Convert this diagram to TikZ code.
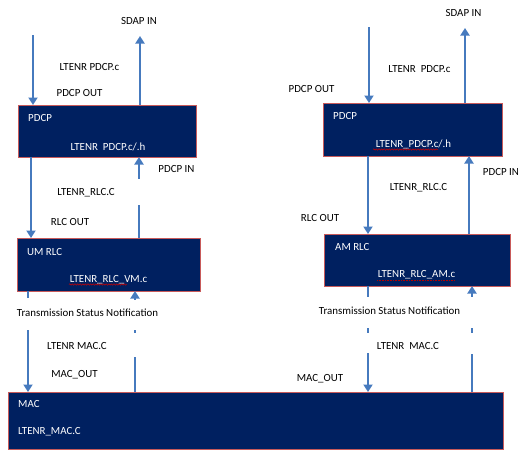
\documentclass[tikz,border=0pt]{standalone}
\usepackage{fontspec}
\setmainfont{Carlito}
\usetikzlibrary{arrows.meta,shadows,decorations.pathmorphing}
\definecolor{navy}{RGB}{0,32,96}
\definecolor{boxedge}{RGB}{200,90,90}
\definecolor{arrowblue}{RGB}{70,122,190}
\begin{document}
\begin{tikzpicture}[x=1pt, y=-1pt, font=\fontsize{10.9}{13}\selectfont,
  box/.style={draw=boxedge, line width=0.6pt, fill=navy, inner sep=0pt, outer sep=0pt,
    drop shadow={shadow xshift=1.3pt, shadow yshift=-1.3pt, opacity=0.35, fill=black!60}},
  arr/.style={draw=arrowblue, line width=2.6pt, -{Triangle[width=9pt,length=7.5pt]}},
  lbl/.style={text=black, inner sep=0pt},
  intext/.style={text=white, inner sep=0pt},
  gapcover/.style={fill=white, draw=none},
  squig/.style={draw=red!80!black, line width=0.5pt, decorate,
    decoration={snake, amplitude=0.7pt, segment length=2.6pt}},
  dotul/.style={draw=red!70!black, line width=0.6pt, densely dotted}]
\useasboundingbox (0,0) rectangle (524,458);

% coordinates for arrow x positions / free ends
\coordinate (aL1) at (33,35);
\coordinate (aL2) at (140,36);
\coordinate (xL3) at (31,0);
\coordinate (xL4) at (139,0);
\coordinate (xL5) at (28,0);
\coordinate (xL6) at (135,0);
\coordinate (aR1) at (369,27);
\coordinate (aR2) at (465,28);
\coordinate (xR3) at (368,0);
\coordinate (xR4) at (469,0);
\coordinate (xR5) at (368,0);
\coordinate (xR6) at (472,0);

% boxes
\node[box, anchor=north west, minimum width=178pt, minimum height=52pt] (pdcpL) at (18,105) {};
\node[box, anchor=north west, minimum width=179pt, minimum height=53pt] (pdcpR) at (323,103) {};
\node[box, anchor=north west, minimum width=183pt, minimum height=53pt] (rlcL) at (17,238) {};
\node[box, anchor=north west, minimum width=186pt, minimum height=52pt] (rlcR) at (324,234) {};
\node[box, anchor=north west, minimum width=495pt, minimum height=57pt] (mac) at (8,392) {};

% arrows left
\draw[arr] (aL1) -- (aL1 |- pdcpL.north);
\draw[arr] (aL2 |- pdcpL.north) -- (aL2);
\draw[arr] (pdcpL.south -| xL3) -- (rlcL.north -| xL3);
\draw[arr] (rlcL.north -| xL4) -- (pdcpL.south -| xL4);
\draw[arr] (rlcL.south -| xL5) -- (mac.north -| xL5);
\draw[arr] (mac.north -| xL6) -- (rlcL.south -| xL6);
% arrows right
\draw[arr] (aR1) -- (aR1 |- pdcpR.north);
\draw[arr] (aR2 |- pdcpR.north) -- (aR2);
\draw[arr] (pdcpR.south -| xR3) -- (rlcR.north -| xR3);
\draw[arr] (rlcR.north -| xR4) -- (pdcpR.south -| xR4);
\draw[arr] (rlcR.south -| xR5) -- (mac.north -| xR5);
\draw[arr] (mac.north -| xR6) -- (rlcR.south -| xR6);

% breaks in the connectors
\path[gapcover] (135,179) rectangle (143,205);
\path[gapcover] (24,298) rectangle (32,330);
\path[gapcover] (131,300) rectangle (139,330);
\path[gapcover] (131,333) rectangle (139,357);
\path[gapcover] (364,297) rectangle (372,328);
\path[gapcover] (364,333) rectangle (372,353);
\path[gapcover] (468,297) rectangle (476,328);
\path[gapcover] (468,333) rectangle (476,354);

% left labels
\node[lbl] (sdapL) at (139,21) {SDAP IN};
\node[lbl] (pdcpcL) at (89.5,67) {LTENR PDCP.c};
\node[lbl] (pdcpoutL) at (79.5,93) {PDCP OUT};
\node[intext, anchor=west] (pdcpTL) at (28,118) {PDCP};
\node[intext] (pdcpFL) at (108,147) {LTENR\ \ PDCP.c/.h};
\node[lbl] (pdcpinL) at (176.5,169) {PDCP IN};
\node[lbl] (rlccL) at (86,193) {LTENR\_RLC.C};
\node[lbl] (rlcoutL) at (70,222) {RLC OUT};
\node[intext, anchor=west] (rlcTL) at (27,252) {UM RLC};
\node[intext] (rlcFL) at (108.5,280) {LTENR\_RLC\_VM.c};
\node[lbl] (tsnL) at (87.5,313) {Transmission Status Notification};
\node[lbl] (maccL) at (77,346) {LTENR MAC.C};
\node[lbl] (macoutL) at (74.5,375) {MAC\_OUT};
\node[intext, anchor=west] (macT) at (18,404) {MAC};
\node[intext, anchor=west] (macF) at (18,432) {LTENR\_MAC.C};

% right labels
\node[lbl] (sdapR) at (463.5,13) {SDAP IN};
\node[lbl] (pdcpcR) at (419.5,69) {LTENR\ \ PDCP.c};
\node[lbl] (pdcpoutR) at (311.5,89) {PDCP OUT};
\node[intext, anchor=west] (pdcpTR) at (333,116) {PDCP};
\node[intext] (pdcpFR) at (413.5,144) {LTENR\_PDCP.c/.h};
\node[lbl] (pdcpinR) at (501,172) {PDCP IN};
\node[lbl] (rlccR) at (418.5,188) {LTENR\_RLC.C};
\node[lbl] (rlcoutR) at (320,218) {RLC OUT};
\node[intext, anchor=west] (rlcTR) at (335,247) {AM RLC};
\node[intext] (rlcFR) at (416.5,275) {LTENR\_RLC\_AM.c};
\node[lbl] (tsnR) at (389.5,311) {Transmission Status Notification};
\node[lbl] (maccR) at (408,346) {LTENR\ \ MAC.C};
\node[lbl] (macoutR) at (320,379) {MAC\_OUT};

% spell-check underlines
\draw[squig] (373,149.5) -- (438,149.5);
\draw[squig] (69,284.5) -- (127,284.5);
\draw[dotul] (377,280) -- (455,280);
\end{tikzpicture}
\end{document}
